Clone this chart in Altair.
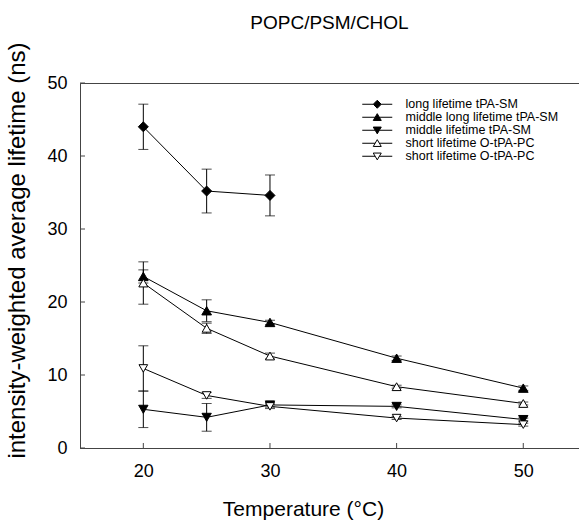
import altair as alt
import pandas as pd

# ---- data ----
temps = [20, 25, 30, 40, 50]
series_ids = ["s1", "s2", "s3", "s4", "s5"]
series_labels = [
    "long lifetime tPA-SM",
    "middle long lifetime tPA-SM",
    "middle lifetime tPA-SM",
    "short lifetime O-tPA-PC",
    "short lifetime O-tPA-PC",
]
long_tpa_sm = [44.0, 35.2, 34.6]
long_tpa_sm_err = [3.1, 3.0, 2.8]
mid_long_tpa_sm = [23.5, 18.8, 17.2, 12.3, 8.2]
mid_long_tpa_sm_err = [0.9, 1.5, 0.3, 0.3, 0.3]
mid_tpa_sm = [5.3, 4.2, 5.9, 5.7, 3.9]
mid_tpa_sm_err = [2.5, 1.9, 0.3, 0.2, 0.2]
short_up_pc = [22.6, 16.4, 12.6, 8.4, 6.1]
short_up_pc_err = [2.9, 0.7, 0.4, 0.2, 0.2]
short_down_pc = [10.9, 7.2, 5.7, 4.1, 3.2]
short_down_pc_err = [3.1, 0.4, 0.3, 0.2, 0.2]

x_ticks = [20, 30, 40, 50]
y_ticks = [0, 10, 20, 30, 40, 50]

values = [long_tpa_sm, mid_long_tpa_sm, mid_tpa_sm, short_up_pc, short_down_pc]
errors = [long_tpa_sm_err, mid_long_tpa_sm_err, mid_tpa_sm_err, short_up_pc_err, short_down_pc_err]

rows = []
for sid, vals, errs in zip(series_ids, values, errors):
    for t, v, e in zip(temps, vals, errs):
        rows.append({"series": sid, "temp": t, "value": v, "lo": v - e, "hi": v + e})
df = pd.DataFrame(rows)

W, H = 499, 365
FONT = "Liberation Sans, Arial, sans-serif"

xs = alt.Scale(domain=[15, 54.4], nice=False, zero=False)
ys = alt.Scale(domain=[0, 50], nice=False)

label_expr = "{" + ",".join(f"'{i}':'{l}'" for i, l in zip(series_ids, series_labels)) + "}[datum.value]"

base = alt.Chart(df)
X = alt.X("temp:Q", scale=xs, axis=alt.Axis(
    values=x_ticks, title="Temperature (°C)", tickSize=0, labelPadding=14,
    labelFontSize=18, titleFontSize=21, titleFontWeight="normal", grid=False,
    titleX=223, titleY=67, titleBaseline="alphabetic", domainColor="#444"))
Y = alt.Y("value:Q", scale=ys, axis=alt.Axis(
    values=y_ticks, title="intensity-weighted average lifetime (ns)", tickSize=0,
    labelPadding=13, labelFontSize=18, titleFontSize=24, titleFontWeight="normal",
    grid=False, titleX=-51, titleY=167, domainColor="#444"))

lines = base.mark_line(color="black", strokeWidth=1).encode(x=X, y=Y, detail="series:N")

err_rule = base.mark_rule(color="black", strokeWidth=1).encode(
    x="temp:Q", y="lo:Q", y2="hi:Q")
cap_lo = base.mark_tick(color="black", size=10, thickness=1, orient="horizontal").encode(
    x="temp:Q", y="lo:Q")
cap_hi = base.mark_tick(color="black", size=10, thickness=1, orient="horizontal").encode(
    x="temp:Q", y="hi:Q")

points = base.mark_point(filled=True, stroke="black", strokeWidth=1, opacity=1).encode(
    x="temp:Q", y="value:Q",
    shape=alt.Shape("series:N", scale=alt.Scale(
        domain=series_ids,
        range=["diamond", "triangle-up", "triangle-down", "triangle-up", "triangle-down"]),
        legend=None),
    fill=alt.Fill("series:N", scale=alt.Scale(
        domain=series_ids, range=["black", "black", "black", "white", "white"]), legend=None),
    size=alt.Size("series:N", scale=alt.Scale(domain=series_ids, range=[100, 75, 75, 75, 75]), legend=None),
)

# legend symbols: line + marker
leg_paths = [
    "M-3.75,0H-1M1,0H3.75M0,-1L1,0L0,1L-1,0Z",
    "M-3.75,0H-0.55M0.55,0H3.75M0,-0.9L1,0.8L-1,0.8Z",
    "M-3.75,0H-0.55M0.55,0H3.75M0,0.9L1,-0.8L-1,-0.8Z",
    "M-3.75,0H-0.55M0.55,0H3.75M0,-0.9L1,0.8L-1,0.8Z",
    "M-3.75,0H-0.55M0.55,0H3.75M0,0.9L1,-0.8L-1,-0.8Z",
]
leg = alt.Legend(title=None, orient="none", legendX=291, legendY=15,
                 labelExpr=label_expr, labelFontSize=12.5, labelOffset=22,
                 rowPadding=0, symbolStrokeColor="black", symbolOpacity=1,
                 symbolStrokeWidth=1, symbolSize=64, labelColor="black")
legend_layer = base.transform_filter("false").mark_point(
    filled=True, strokeWidth=1, size=64, opacity=1).encode(
    x="temp:Q", y="value:Q",
    shape=alt.Shape("series:N", scale=alt.Scale(domain=series_ids, range=leg_paths), legend=leg),
    fill=alt.Fill("series:N", scale=alt.Scale(domain=series_ids,
                  range=["black", "black", "black", "white", "white"]), legend=leg),
    stroke=alt.Stroke("series:N", scale=alt.Scale(domain=series_ids,
                      range=["black", "black", "black", "black", "black"]), legend=leg),
)

# inward tick marks
xt = alt.Chart(pd.DataFrame({"t": x_ticks})).mark_rule(color="#444", strokeWidth=1).encode(
    x=alt.X("t:Q", scale=xs), y=alt.value(H), y2=alt.value(H - 5))
yt = alt.Chart(pd.DataFrame({"t": y_ticks})).mark_rule(color="#444", strokeWidth=1).encode(
    y=alt.Y("t:Q", scale=ys), x=alt.value(0), x2=alt.value(5))

chart = alt.layer(lines, err_rule, cap_lo, cap_hi, points, legend_layer, xt, yt).resolve_scale(
    shape="independent", fill="independent", size="independent", stroke="independent"
).properties(
    width=W, height=H,
    title=alt.Title("POPC/PSM/CHOL", fontSize=19, fontWeight="normal", font=FONT,
                    baseline="alphabetic", offset=19, dy=25, color="black"),
    autosize=alt.AutoSizeParams(type="none"),
    padding={"left": 80, "top": 83, "right": 0, "bottom": 73},
).configure(font=FONT).configure_view(stroke="#444", strokeWidth=1).configure_axis(
    labelFont=FONT, titleFont=FONT, labelColor="black", titleColor="black"
).configure_legend(labelFont=FONT)

chart.save("out.html", embed_options={"renderer": "svg", "actions": False})
